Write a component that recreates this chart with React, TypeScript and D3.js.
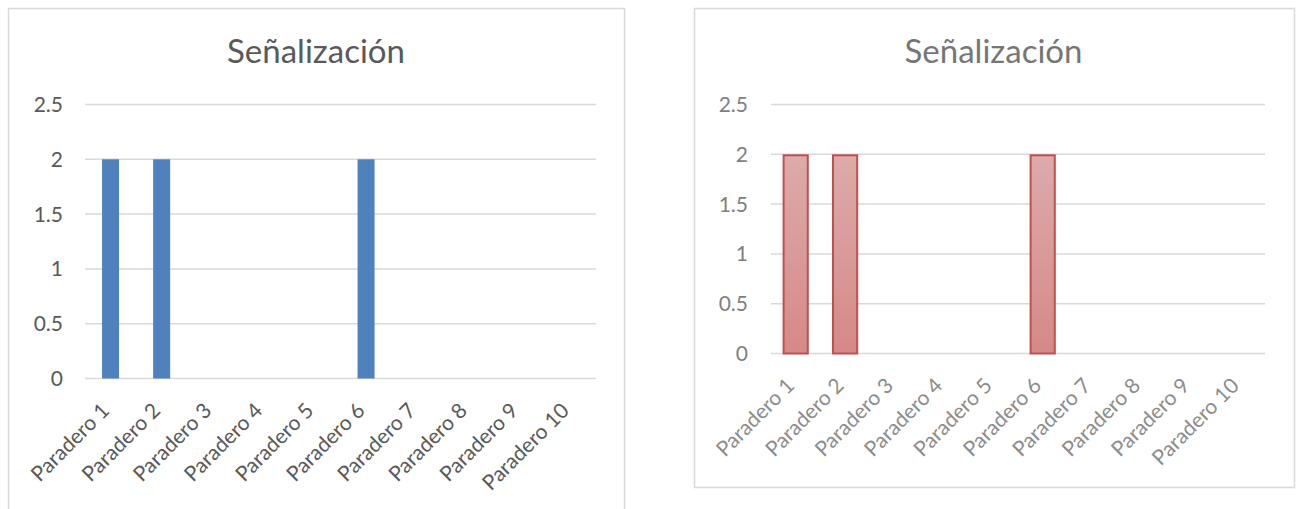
import React from "react";
import * as d3 from "d3";

// Bus stops surveyed and the signage score recorded at each one
const categories = [
  "Paradero 1",
  "Paradero 2",
  "Paradero 3",
  "Paradero 4",
  "Paradero 5",
  "Paradero 6",
  "Paradero 7",
  "Paradero 8",
  "Paradero 9",
  "Paradero 10",
];
const senalizacion = [2, 2, 0, 0, 0, 2, 0, 0, 0, 0];
const yTicks = [0, 0.5, 1, 1.5, 2, 2.5];
const yLabels = ["0", "0.5", "1", "1.5", "2", "2.5"];
const title = "Señalización";

const FONT = "Lato, 'Open Sans', 'Liberation Sans', sans-serif";

type Variant = {
  id: string;
  frame: { x: number; y: number; w: number; h: number };
  plot: { left: number; right: number; top: number; bottom: number };
  titleX: number;
  titleY: number;
  titleSize: number;
  titleColor: string;
  tickColor: string;
  labelColor: string;
  tickSize: number;
  labelGap: number;
  tickGap: number;
  padding: number;
  barFill: string;
  barStroke: string | null;
};

const variants: Variant[] = [
  {
    id: "solid",
    frame: { x: 8, y: 8, w: 616, h: 520 },
    plot: { left: 85, right: 596, top: 104.5, bottom: 378.5 },
    titleX: 316,
    titleY: 63,
    titleSize: 33,
    titleColor: "#595959",
    tickColor: "#595959",
    labelColor: "#595959",
    tickSize: 21,
    labelGap: 33.5,
    tickGap: 22,
    padding: 0.667,
    barFill: "#4F81BD",
    barStroke: null,
  },
  {
    id: "shaded",
    frame: { x: 694, y: 8, w: 600, h: 479 },
    plot: { left: 771, right: 1265, top: 104.5, bottom: 353.5 },
    titleX: 993.5,
    titleY: 63,
    titleSize: 33,
    titleColor: "#767676",
    tickColor: "#7F7F7F",
    labelColor: "#8C8C8C",
    tickSize: 21,
    labelGap: 33.5,
    tickGap: 23,
    padding: 0.47,
    barFill: "url(#barShade)",
    barStroke: "#C0504D",
  },
];

function BarChart({ v }: { v: Variant }) {
  const x = d3
    .scaleBand<string>()
    .domain(categories)
    .range([v.plot.left, v.plot.right])
    .paddingInner(v.padding)
    .paddingOuter(v.padding / 2);
  const y = d3
    .scaleLinear()
    .domain([0, 2.5])
    .range([v.plot.bottom, v.plot.top]);
  const bw = x.bandwidth();
  const inset = v.barStroke ? 1 : 0;

  return (
    <g>
      <rect
        x={v.frame.x + 0.5}
        y={v.frame.y + 0.5}
        width={v.frame.w}
        height={v.frame.h}
        fill="#FFFFFF"
        stroke="#D9D9D9"
        strokeWidth={1.5}
      />
      <text
        x={v.titleX}
        y={v.titleY}
        textAnchor="middle"
        fontFamily={FONT}
        fontSize={v.titleSize}
        fill={v.titleColor}
      >
        {title}
      </text>
      {yTicks.map((t, i) => (
        <g key={t}>
          <line
            x1={v.plot.left}
            x2={v.plot.right}
            y1={y(t)}
            y2={y(t)}
            stroke="#D9D9D9"
            strokeWidth={1.5}
          />
          <text
            x={v.plot.left - v.tickGap}
            y={y(t)}
            dy="0.36em"
            textAnchor="end"
            fontFamily={FONT}
            fontSize={v.tickSize}
            fill={v.tickColor}
          >
            {yLabels[i]}
          </text>
        </g>
      ))}
      {categories.map((c, i) =>
        senalizacion[i] > 0 ? (
          <rect
            key={c}
            x={(x(c) as number) + inset}
            y={y(senalizacion[i]) + inset}
            width={bw - 2 * inset}
            height={y(0) - y(senalizacion[i]) - inset}
            fill={v.barFill}
            stroke={v.barStroke ?? "none"}
            strokeWidth={2}
          />
        ) : null
      )}
      {categories.map((c) => {
        const cx = (x(c) as number) + bw / 2;
        const ly = v.plot.bottom + v.labelGap;
        return (
          <text
            key={c}
            transform={`translate(${cx},${ly}) rotate(-45)`}
            textAnchor="end"
            fontFamily={FONT}
            fontSize={v.tickSize}
            fill={v.labelColor}
          >
            {c}
          </text>
        );
      })}
    </g>
  );
}

export default function App() {
  return (
    <div style={{ position: "fixed", left: 0, top: 0 }}>
      <svg width={1299} height={509} style={{ display: "block", background: "#FFFFFF" }}>
        <defs>
          <linearGradient id="barShade" x1="0" y1="0" x2="0" y2="1">
            <stop offset="0%" stopColor="#DCABAA" />
            <stop offset="100%" stopColor="#D58988" />
          </linearGradient>
        </defs>
        {variants.map((v) => (
          <BarChart key={v.id} v={v} />
        ))}
      </svg>
    </div>
  );
}
